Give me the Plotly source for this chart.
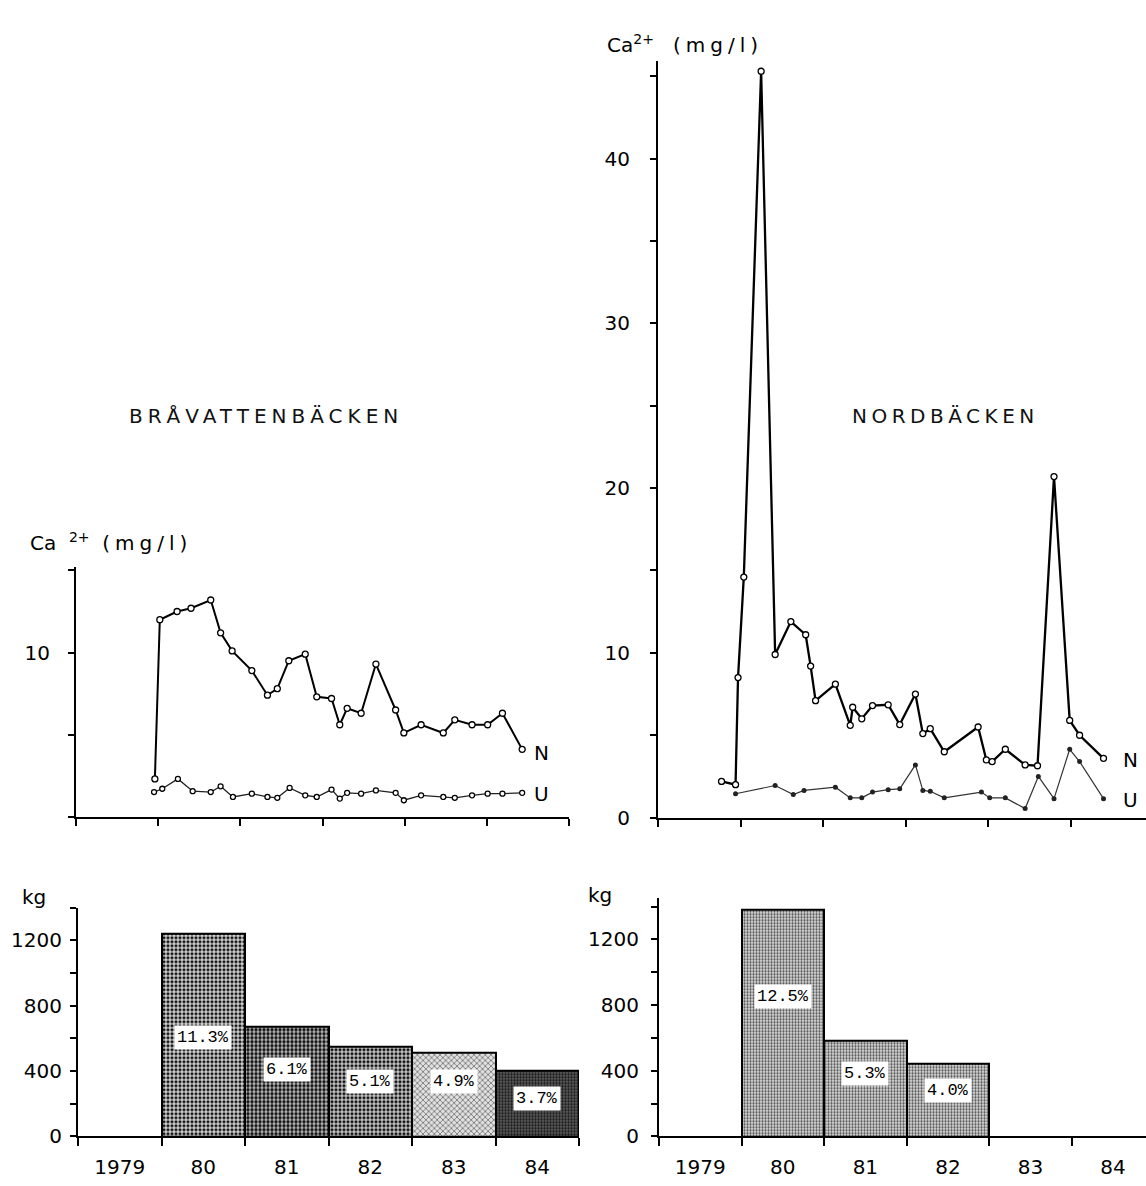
import plotly.graph_objects as go

W, H = 1146, 1186

# ---------------- data ----------------
# Bråvattenbäcken, Ca2+ (mg/l)
bra_n_t = [1979.96, 1980.02, 1980.23, 1980.40, 1980.64, 1980.76, 1980.90, 1981.14, 1981.33, 1981.45,
           1981.59, 1981.79, 1981.93, 1982.11, 1982.21, 1982.30, 1982.47, 1982.65, 1982.89, 1982.99,
           1983.20, 1983.47, 1983.61, 1983.82, 1984.01, 1984.19, 1984.43]
bra_n_v = [2.3, 12.0, 12.5, 12.7, 13.2, 11.2, 10.1, 8.9, 7.4, 7.8,
           9.5, 9.9, 7.3, 7.2, 5.6, 6.6, 6.3, 9.3, 6.5, 5.1,
           5.6, 5.1, 5.9, 5.6, 5.6, 6.3, 4.1]
bra_u_t = [1979.95, 1980.05, 1980.24, 1980.42, 1980.64, 1980.76, 1980.91, 1981.14, 1981.33, 1981.45,
           1981.60, 1981.79, 1981.93, 1982.11, 1982.21, 1982.30, 1982.47, 1982.65, 1982.89, 1982.99,
           1983.20, 1983.47, 1983.61, 1983.82, 1984.01, 1984.19, 1984.43]
bra_u_v = [1.5, 1.7, 2.3, 1.55, 1.5, 1.85, 1.2, 1.4, 1.2, 1.15,
           1.75, 1.3, 1.2, 1.65, 1.1, 1.45, 1.4, 1.6, 1.45, 1.0,
           1.3, 1.2, 1.15, 1.3, 1.4, 1.4, 1.45]

# Nordbäcken, Ca2+ (mg/l)
nord_n_t = [1979.77, 1979.94, 1979.97, 1980.04, 1980.25, 1980.42, 1980.61, 1980.79, 1980.85, 1980.91,
            1981.15, 1981.33, 1981.36, 1981.47, 1981.60, 1981.79, 1981.93, 1982.12, 1982.21, 1982.30,
            1982.47, 1982.88, 1982.98, 1983.05, 1983.21, 1983.45, 1983.60, 1983.80, 1983.99, 1984.11,
            1984.40]
nord_n_v = [2.2, 2.0, 8.5, 14.6, 45.3, 9.9, 11.9, 11.1, 9.2, 7.1,
            8.1, 5.6, 6.7, 6.0, 6.8, 6.85, 5.65, 7.5, 5.1, 5.4,
            4.0, 5.5, 3.5, 3.4, 4.15, 3.2, 3.15, 20.7, 5.9, 5.0,
            3.6]
nord_u_t = [1979.94, 1980.42, 1980.64, 1980.77, 1981.15, 1981.33, 1981.47, 1981.60, 1981.79, 1981.93,
            1982.12, 1982.21, 1982.30, 1982.47, 1982.92, 1983.02, 1983.21, 1983.45, 1983.61, 1983.80,
            1983.99, 1984.11, 1984.40]
nord_u_v = [1.45, 1.95, 1.4, 1.65, 1.85, 1.2, 1.2, 1.55, 1.7, 1.75,
            3.2, 1.65, 1.6, 1.2, 1.55, 1.2, 1.2, 0.55, 2.5, 1.15,
            4.15, 3.4, 1.15]

# yearly loads (kg)
years = ["1979", "80", "81", "82", "83", "84"]
year_centers = [1979.5, 1980.5, 1981.5, 1982.5, 1983.5, 1984.5]
bra_bar_x = [1980.5, 1981.5, 1982.5, 1983.5, 1984.5]
bra_bar_kg = [1240, 670, 550, 515, 400]
bra_pct = ["11.3%", "6.1%", "5.1%", "4.9%", "3.7%"]
bra_pct_y = [606, 412, 333, 333, 230]

nord_bar_x = [1980.5, 1981.5, 1982.5]
nord_bar_kg = [1380, 580, 445]
nord_pct = ["12.5%", "5.3%", "4.0%"]
nord_pct_y = [850, 386, 277]

kg_ticks = [0, 400, 800, 1200]
bra_ca_ticks = [10]
nord_ca_ticks = [0, 10, 20, 30, 40]

# ---------------- helpers ----------------
def px_x(p):
    return p / W

def px_y(p):
    return (H - p) / H

def spaced(t, s):
    return '<span style="letter-spacing:%spx">%s</span>' % (s, t)

NUMFONT = dict(family="DejaVu Sans", size=20, color="black")
TXTFONT = dict(family="DejaVu Sans", size=20, color="black")

fig = go.Figure()

marker = dict(symbol="circle", size=6, color="white", line=dict(color="black", width=1.3))

fig.add_trace(go.Scatter(x=bra_n_t, y=bra_n_v, mode="lines+markers", xaxis="x", yaxis="y",
                         line=dict(color="black", width=2), marker=marker, showlegend=False))
fig.add_trace(go.Scatter(x=bra_u_t, y=bra_u_v, mode="lines+markers", xaxis="x", yaxis="y",
                         line=dict(color="#222", width=1.3), marker=dict(marker, size=5), showlegend=False))
fig.add_trace(go.Scatter(x=nord_n_t, y=nord_n_v, mode="lines+markers", xaxis="x2", yaxis="y2",
                         line=dict(color="black", width=2.3), marker=marker, showlegend=False))
fig.add_trace(go.Scatter(x=nord_u_t, y=nord_u_v, mode="lines+markers", xaxis="x2", yaxis="y2",
                         line=dict(color="#333", width=1.2), marker=dict(symbol="circle", size=5, color="#222"),
                         showlegend=False))

fig.add_trace(go.Bar(x=bra_bar_x, y=bra_bar_kg, width=1, xaxis="x3", yaxis="y3", showlegend=False,
                     marker=dict(color="#c0c0c0", line=dict(color="black", width=2),
                                 pattern=dict(shape=[".", ".", ".", "x", "."],
                                              fgcolor=["#111", "#111", "#111", "#555", "#1a1a1a"],
                                              bgcolor=["#d6d6d6", "#bdbdbd", "#c8c8c8", "#e0e0e0", "#666666"],
                                              size=[4, 4, 4, 4, 3],
                                              solidity=[0.5, 0.55, 0.5, 0.3, 0.5],
                                              fillmode="replace"))))
fig.add_trace(go.Bar(x=nord_bar_x, y=nord_bar_kg, width=1, xaxis="x4", yaxis="y4", showlegend=False,
                     marker=dict(color="#c8c8c8", line=dict(color="black", width=2),
                                 pattern=dict(shape=".", fgcolor="#555", bgcolor="#dedede",
                                              size=3, solidity=0.45, fillmode="replace"))))

axis_common = dict(showline=True, linecolor="black", linewidth=2, showgrid=False, zeroline=False,
                   ticks="outside", tickcolor="black", tickwidth=1.5, tickfont=NUMFONT, mirror=False)

def minor(dt, t0=0, ln=6):
    return dict(tickmode="linear", tick0=t0, dtick=dt, ticks="outside", ticklen=ln,
                tickcolor="black", tickwidth=1.5, showgrid=False)

# top-left
xa1 = dict(axis_common, domain=[px_x(76), px_x(569)], range=[1979, 1985], anchor="y",
           tickmode="linear", tick0=1979, dtick=1, showticklabels=False, ticklen=7)
ya1 = dict(axis_common, domain=[px_y(825), px_y(573)], range=[0, 15.2], anchor="x",
           tickvals=bra_ca_ticks, ticklen=6, ticklabelstandoff=14, minor=minor(5))
# top-right
xa2 = dict(axis_common, domain=[px_x(658), 1.0], range=[1979, 1984.915], anchor="y2",
           tickmode="linear", tick0=1979, dtick=1, showticklabels=False, ticklen=7)
ya2 = dict(axis_common, domain=[px_y(826), px_y(62)], range=[0, 45.9], anchor="x2",
           tickvals=nord_ca_ticks, ticklen=6, ticklabelstandoff=16, minor=minor(5))
# bottom-left
xa3 = dict(axis_common, domain=[px_x(78), px_x(579)], range=[1979, 1985], anchor="y3",
           tickvals=year_centers, ticktext=years, ticks="", ticklabelstandoff=12,
           minor=minor(1, 1979, 8))
ya3 = dict(axis_common, domain=[px_y(1148), px_y(917)], range=[0, 1400], anchor="x3",
           tickvals=kg_ticks, ticklen=6, ticklabelstandoff=4, minor=minor(200))
# bottom-right
xa4 = dict(axis_common, domain=[px_x(659), 1.0], range=[1979, 1984.9], anchor="y4",
           tickvals=year_centers, ticktext=years, ticks="", ticklabelstandoff=12,
           minor=minor(1, 1979, 8))
ya4 = dict(axis_common, domain=[px_y(1148), px_y(907)], range=[0, 1453], anchor="x4",
           tickvals=kg_ticks, ticklen=6, ticklabelstandoff=8, minor=minor(200))

annotations = []
# axis titles
annotations.append(dict(text="Ca&nbsp;&nbsp;<sup>2+</sup>&nbsp;&nbsp;" + spaced("(mg/l)", 5),
                        xref="paper", yref="paper",
                        x=px_x(28), y=px_y(548), xanchor="left", yanchor="middle",
                        showarrow=False, font=TXTFONT))
annotations.append(dict(text="Ca<sup>2+</sup>&nbsp;&nbsp;&nbsp;" + spaced("(mg/l)", 5),
                        xref="paper", yref="paper",
                        x=px_x(605), y=px_y(44), xanchor="left", yanchor="middle",
                        showarrow=False, font=TXTFONT))
annotations.append(dict(text="kg", xref="paper", yref="paper", x=px_x(20), y=px_y(906),
                        xanchor="left", yanchor="middle", showarrow=False, font=TXTFONT))
annotations.append(dict(text="kg", xref="paper", yref="paper", x=px_x(586), y=px_y(904),
                        xanchor="left", yanchor="middle", showarrow=False, font=TXTFONT))
# station names
annotations.append(dict(text=spaced("BRÅVATTENBÄCKEN", 5), xref="paper", yref="paper",
                        x=px_x(266), y=px_y(420),
                        xanchor="center", yanchor="middle", showarrow=False,
                        font=dict(family="DejaVu Sans", size=20, color="#111")))
annotations.append(dict(text=spaced("NORDBÄCKEN", 4.5), xref="paper", yref="paper",
                        x=px_x(945), y=px_y(420),
                        xanchor="center", yanchor="middle", showarrow=False,
                        font=dict(family="DejaVu Sans", size=20, color="#111")))
# series labels
annotations.append(dict(text="N", xref="x", yref="y", x=1984.67, y=3.9, showarrow=False, font=TXTFONT))
annotations.append(dict(text="U", xref="x", yref="y", x=1984.67, y=1.4, showarrow=False, font=TXTFONT))
annotations.append(dict(text="N", xref="x2", yref="y2", x=1984.73, y=3.5, showarrow=False, font=TXTFONT))
annotations.append(dict(text="U", xref="x2", yref="y2", x=1984.73, y=1.1, showarrow=False, font=TXTFONT))
# percentage labels
MONO = dict(family="Liberation Mono", size=17, color="black")
for xv, yv, t in zip(bra_bar_x, bra_pct_y, bra_pct):
    annotations.append(dict(text=t, xref="x3", yref="y3", x=xv, y=yv, showarrow=False,
                            font=MONO, bgcolor="white", borderpad=2))
for xv, yv, t in zip(nord_bar_x, nord_pct_y, nord_pct):
    annotations.append(dict(text=t, xref="x4", yref="y4", x=xv, y=yv, showarrow=False,
                            font=MONO, bgcolor="white", borderpad=2))

fig.update_layout(width=W, height=H, margin=dict(l=0, r=0, t=0, b=0),
                  paper_bgcolor="white", plot_bgcolor="white",
                  xaxis=xa1, yaxis=ya1, xaxis2=xa2, yaxis2=ya2,
                  xaxis3=xa3, yaxis3=ya3, xaxis4=xa4, yaxis4=ya4,
                  annotations=annotations, bargap=0)

fig.write_html("out.html")
